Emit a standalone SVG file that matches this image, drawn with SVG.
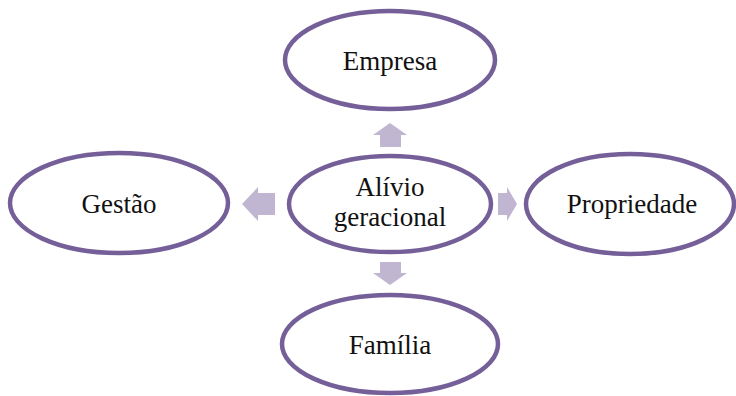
<svg xmlns="http://www.w3.org/2000/svg" width="736" height="396" viewBox="0 0 736 396">
  <style>
    .node ellipse { fill: #ffffff; stroke: #745f99; stroke-width: 4.5; }
    .node text { font-family: "Liberation Serif", "DejaVu Serif", serif; font-size: 27px; fill: #111111; text-anchor: middle; }
    .arrow { fill: #c0b6d1; }
  </style>
  <rect width="736" height="396" fill="#ffffff"/>

  <g id="connectors">
    <!-- up -->
    <polygon class="arrow" points="380,147 380,135 373,135 390,123 407,135 401,135 401,147"/>
    <!-- down -->
    <polygon class="arrow" points="380,262 401,262 401,273 407,273 390,285 373,273 380,273"/>
    <!-- left -->
    <polygon class="arrow" points="275,193 275,215 258,215 258,221 242,204 258,187 258,193"/>
    <!-- right -->
    <polygon class="arrow" points="498,193 507,193 507,187 517,204 507,221 507,215 498,215"/>
  </g>

  <g id="node-empresa" class="node">
    <ellipse cx="390" cy="60" rx="105" ry="49"/>
    <text x="390" y="70">Empresa</text>
  </g>

  <g id="node-alivio" class="node">
    <ellipse cx="390" cy="204" rx="101" ry="48"/>
    <text x="390" y="196">Alívio</text>
    <text x="390" y="226">geracional</text>
  </g>

  <g id="node-gestao" class="node">
    <ellipse cx="119" cy="203" rx="109" ry="50"/>
    <text x="119" y="213">Gestão</text>
  </g>

  <g id="node-propriedade" class="node">
    <ellipse cx="630" cy="204" rx="104" ry="50"/>
    <text x="632" y="213">Propriedade</text>
  </g>

  <g id="node-familia" class="node">
    <ellipse cx="390" cy="344" rx="108" ry="49"/>
    <text x="390" y="354">Família</text>
  </g>
</svg>
